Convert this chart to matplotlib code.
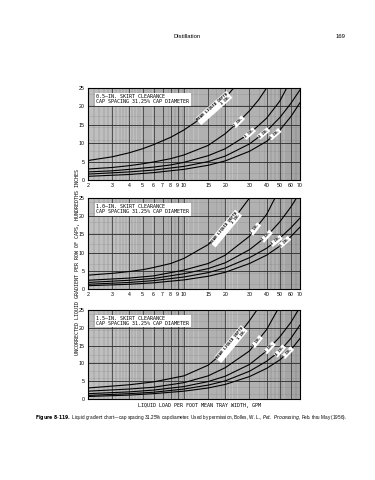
import numpy as np
import matplotlib
matplotlib.use("Agg")
import matplotlib.pyplot as plt
from matplotlib.ticker import FixedLocator, NullFormatter

# liquid load (gpm per ft of mean tray width) and gradients (hundredths in.)
depth_labels = ["MEAN LIQUID DEPTH\n1 IN.", "2 IN.", "3 IN.", "4 IN.", "5 IN."]
panel_titles = [
    "0.5\u2013IN. SKIRT CLEARANCE\nCAP SPACING 31.25% CAP DIAMETER",
    "1.0\u2013IN. SKIRT CLEARANCE\nCAP SPACING 31.25% CAP DIAMETER",
    "1.5\u2013IN. SKIRT CLEARANCE\nCAP SPACING 31.25% CAP DIAMETER",
]

# panel 1 (0.5 in. skirt clearance)
p1_x = [
    [2, 3, 4, 5, 6, 8, 10, 12, 15, 20, 23],
    [2, 3, 4, 5, 6, 8, 10, 15, 20, 25, 30, 35, 40],
    [2, 3, 4, 6, 8, 10, 15, 20, 30, 40, 50, 56],
    [2, 4, 6, 10, 15, 20, 30, 40, 50, 60, 70],
    [2, 4, 6, 10, 15, 20, 30, 40, 50, 60, 70],
]
p1_y = [
    [5.3, 6.3, 7.4, 8.5, 9.6, 11.6, 13.6, 15.6, 18.2, 22.3, 25],
    [3.0, 3.4, 3.9, 4.4, 4.9, 5.8, 6.8, 9.4, 12.6, 15.8, 18.8, 21.8, 25],
    [2.2, 2.5, 2.9, 3.5, 4.1, 4.8, 6.6, 8.5, 12.6, 16.8, 21.5, 25],
    [1.6, 2.2, 2.7, 3.7, 5.0, 6.5, 9.8, 13.3, 17.0, 20.8, 24.5],
    [1.0, 1.5, 2.0, 2.9, 4.0, 5.2, 7.8, 10.5, 13.6, 17.2, 21.0],
]
# label positions (x) along each curve
p1_lab = [16.5, 25, 30, 38, 46]

# panel 2 (1.0 in. skirt clearance)
p2_x = [
    [2, 3, 4, 5, 6, 8, 10, 15, 20, 25, 30],
    [2, 4, 6, 10, 15, 20, 30, 40, 46],
    [2, 4, 6, 10, 15, 20, 30, 40, 50, 60, 66],
    [2, 4, 6, 10, 15, 20, 30, 40, 50, 60, 70],
    [2, 4, 6, 10, 15, 20, 30, 40, 50, 60, 70],
]
p2_y = [
    [3.8, 4.3, 4.8, 5.3, 5.9, 7.0, 8.4, 12.2, 16.6, 21.0, 25],
    [2.4, 3.0, 3.6, 5.2, 7.0, 9.3, 14.5, 20.5, 25],
    [1.8, 2.4, 2.9, 4.2, 5.6, 7.2, 10.8, 14.5, 18.5, 22.5, 25],
    [1.3, 1.8, 2.3, 3.3, 4.5, 5.8, 8.6, 11.2, 14.0, 16.8, 19.5],
    [0.9, 1.3, 1.7, 2.5, 3.5, 4.6, 7.0, 9.3, 11.8, 14.4, 17.0],
]
p2_lab = [20, 33, 40, 47, 54]

# panel 3 (1.5 in. skirt clearance)
p3_x = [
    [2, 4, 6, 10, 15, 20, 25, 30, 34],
    [2, 4, 6, 10, 15, 20, 30, 40, 48],
    [2, 4, 6, 10, 15, 20, 30, 40, 50, 60, 68],
    [2, 4, 6, 10, 15, 20, 30, 40, 50, 60, 70],
    [2, 4, 6, 10, 15, 20, 30, 40, 50, 60, 70],
]
p3_y = [
    [3.1, 4.0, 4.8, 6.5, 9.5, 13.5, 18.0, 22.0, 25],
    [2.2, 2.8, 3.3, 4.6, 6.5, 8.8, 13.5, 19.5, 25],
    [1.5, 2.0, 2.5, 3.5, 4.9, 6.4, 9.7, 13.5, 17.5, 21.5, 25],
    [1.0, 1.5, 1.9, 2.8, 3.9, 5.1, 7.8, 10.6, 13.5, 17.0, 20.8],
    [0.7, 1.1, 1.5, 2.2, 3.1, 4.1, 6.3, 8.6, 11.0, 13.8, 17.0],
]
p3_lab = [22, 34, 42, 50, 57]

x_ticks = [2, 3, 4, 5, 6, 7, 8, 9, 10, 15, 20, 30, 40, 50, 60, 70]
y_ticks = [0, 5, 10, 15, 20, 25]

panels = [(p1_x, p1_y, p1_lab), (p2_x, p2_y, p2_lab), (p3_x, p3_y, p3_lab)]

W, H = 375, 480
fig = plt.figure(figsize=(W / 100, H / 100), dpi=100)
fig.patch.set_facecolor("white")
plt.rcParams["font.family"] = ["Liberation Sans", "DejaVu Sans"]

# axes boxes in pixels: (top, bottom)
boxes = [(88, 180), (198, 289), (310, 399)]
left, right = 88, 300

# fine graph-paper lines
minor_x = []
for v in np.arange(2.0, 10.0, 0.2):
    minor_x.append(v)
for v in np.arange(10.0, 20.0, 0.5):
    minor_x.append(v)
for v in np.arange(20.0, 70.1, 1.0):
    minor_x.append(v)
minor_y = np.arange(0, 25.01, 0.5)

for i, (xs, ys, labx) in enumerate(panels):
    top, bot = boxes[i]
    ax = fig.add_axes([left / W, 1 - bot / H, (right - left) / W, (bot - top) / H])
    ax.set_facecolor("#d0d0d0")
    ax.set_xscale("log")
    ax.set_xlim(2, 70)
    ax.set_ylim(0, 25)

    for v in minor_x:
        ax.axvline(v, color="#6e6e6e", lw=0.25, zorder=1)
    for v in minor_y:
        ax.axhline(v, color="#6e6e6e", lw=0.25, zorder=1)
    for v in x_ticks:
        ax.axvline(v, color="#2a2a2a", lw=0.5, zorder=1)
    for v in range(0, 26, 5):
        ax.axhline(v, color="#2a2a2a", lw=0.6, zorder=1)

    ax.xaxis.set_major_locator(FixedLocator(x_ticks))
    ax.xaxis.set_minor_locator(FixedLocator([]))
    ax.xaxis.set_minor_formatter(NullFormatter())
    if i < 2:
        ax.set_xticklabels([str(t) for t in x_ticks], fontsize=3.8)
    else:
        ax.set_xticklabels([])
    ax.set_yticks(y_ticks)
    ax.set_yticklabels([str(t) for t in y_ticks], fontsize=3.8)
    ax.tick_params(length=0, pad=2.5)
    for s in ax.spines.values():
        s.set_linewidth(0.8)

    for k in range(len(xs)):
        ax.plot(xs[k], ys[k], color="black", lw=0.8, zorder=3)

    # rotated curve labels on white patches
    fig.canvas.draw()
    for k in range(len(xs)):
        lx = labx[k]
        ly = np.interp(np.log(lx), np.log(xs[k]), ys[k])
        ly2 = np.interp(np.log(lx * 1.08), np.log(xs[k]), ys[k])
        p1 = ax.transData.transform((lx, ly))
        p2 = ax.transData.transform((lx * 1.08, ly2))
        ang = np.degrees(np.arctan2(p2[1] - p1[1], p2[0] - p1[0]))
        ax.text(lx, ly, depth_labels[k], fontsize=2.8, rotation=ang,
                rotation_mode="anchor", ha="center", va="center", zorder=4,
                family="DejaVu Sans Mono", fontweight="bold", linespacing=1.0,
                multialignment="right",
                bbox=dict(boxstyle="square,pad=0.15", fc="white", ec="none"))

    ax.text(0.04, 0.93, panel_titles[i], transform=ax.transAxes, fontsize=3.6,
            ha="left", va="top", family="DejaVu Sans Mono", linespacing=1.0,
            zorder=5, bbox=dict(boxstyle="square,pad=0.25", fc="white", ec="none"))

fig.text(77 / W, 1 - 262 / H,
         "UNCORRECTED LIQUID GRADIENT PER ROW OF CAPS, HUNDREDTHS INCHES",
         rotation=90, fontsize=3.6, ha="center", va="center",
         family="DejaVu Sans Mono")
fig.text(200 / W, 1 - 406 / H, "LIQUID LOAD PER FOOT MEAN TRAY WIDTH, GPM",
         fontsize=3.6, ha="center", va="center", family="DejaVu Sans Mono")

fig.text(187 / W, 1 - 37 / H, "Distillation", fontsize=4.2, ha="center", va="center")
fig.text(340 / W, 1 - 37 / H, "169", fontsize=4.2, ha="center", va="center")

caption = (r"$\bf{Figure\ 8\text{-}119.}$ Liquid gradient chart" + "\u2014" +
           "cap spacing 31.25% cap diameter. Used by permission, Bolles, W. L., " +
           r"$\it{Pet.\ Processing}$" + ", Feb. thru May (1956).")
fig.text(35 / W, 1 - 417 / H, caption, fontsize=3.3, ha="left", va="center")

fig.savefig("out.png", dpi=100, facecolor="white")
